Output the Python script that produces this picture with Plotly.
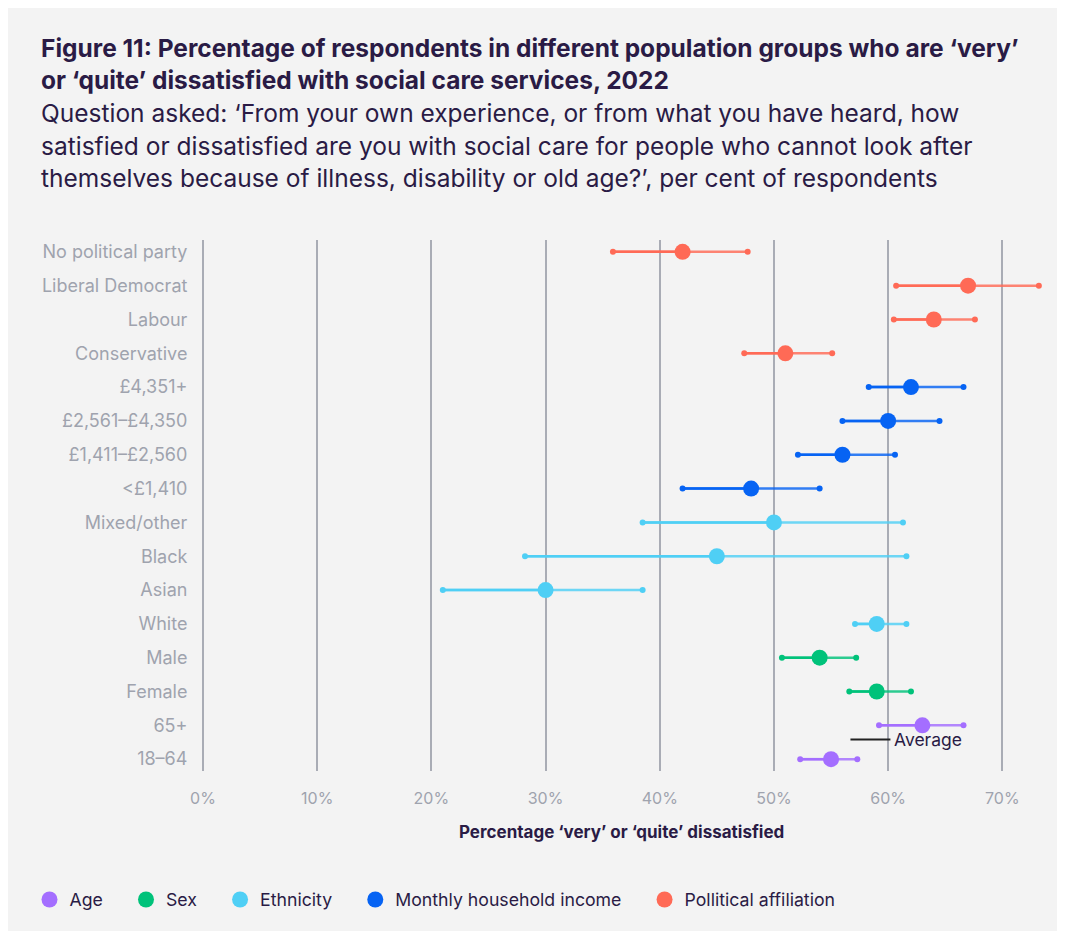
import plotly.graph_objects as go

# ---------------- data ----------------
categories = ["No political party", "Liberal Democrat", "Labour", "Conservative",
              "£4,351+", "£2,561–£4,350", "£1,411–£2,560", "<£1,410",
              "Mixed/other", "Black", "Asian", "White",
              "Male", "Female", "65+", "18–64"]
groups = ["Pollitical affiliation"] * 4 + ["Monthly household income"] * 4 + \
         ["Ethnicity"] * 4 + ["Sex"] * 2 + ["Age"] * 2
values = [42.0, 67.0, 64.0, 51.0,
          62.0, 60.0, 56.0, 48.0,
          50.0, 45.0, 30.0, 59.0,
          54.0, 59.0, 63.0, 55.0]
lower = [35.9, 60.7, 60.5, 47.4,
         58.3, 56.0, 52.1, 42.0,
         38.5, 28.2, 21.0, 57.1,
         50.7, 56.6, 59.2, 52.3]
upper = [47.7, 73.2, 67.6, 55.1,
         66.6, 64.5, 60.6, 54.0,
         61.3, 61.6, 38.5, 61.6,
         57.2, 62.0, 66.6, 57.3]
average = 56.7
x_ticks = [0, 10, 20, 30, 40, 50, 60, 70]
x_tick_labels = ["0%", "10%", "20%", "30%", "40%", "50%", "60%", "70%"]
legend_order = ["Age", "Sex", "Ethnicity", "Monthly household income", "Pollitical affiliation"]
group_colors = {
    "Age": (164, 110, 255),
    "Sex": (0, 194, 122),
    "Ethnicity": (79, 207, 245),
    "Monthly household income": (6, 99, 243),
    "Pollitical affiliation": (255, 106, 86),
}

FONT = "Inter"
DARK = "#2a1b45"
TICK = "#9fa3ae"
GRID = "#a9acb5"
PANEL = "#f3f3f3"

OFF = 8  # page body margin
W, H = 1057, 923
ML, MR, MT, MB = 195, 17, 232, 160
PW, PH = W - ML - MR, H - MT - MB


def sx(px):
    """screen pixel x -> paper x"""
    return (px - OFF - ML) / PW


def sy(py):
    """screen pixel y -> paper y"""
    return (H - MB - (py - OFF)) / PH


def rgb(c, a=1.0):
    return "rgba(%d,%d,%d,%s)" % (c[0], c[1], c[2], a)


fig = go.Figure()

# whiskers and points, per group
for g in legend_order:
    idx = [i for i, gg in enumerate(groups) if gg == g]
    col = group_colors[g]
    xs, ys, xl, yl = [], [], [], []
    for i in idx:
        xs += [lower[i], upper[i], None]
        ys += [categories[i], categories[i], None]
        xl += [lower[i], values[i], None]
        yl += [categories[i], categories[i], None]
    # full interval (slightly lighter)
    fig.add_trace(go.Scatter(
        x=xs, y=ys, mode="lines+markers",
        line=dict(color=rgb(col, 0.82), width=2.5),
        marker=dict(color=rgb(col), size=6),
        showlegend=False, hoverinfo="skip", cliponaxis=False))
    # lower part (full colour)
    fig.add_trace(go.Scatter(
        x=xl, y=yl, mode="lines",
        line=dict(color=rgb(col), width=2.5),
        showlegend=False, hoverinfo="skip", cliponaxis=False))
    fig.add_trace(go.Scatter(
        x=[values[i] for i in idx], y=[categories[i] for i in idx],
        mode="markers", name=g + "\u00a0\u00a0\u00a0\u2009",
        marker=dict(color=rgb(col), size=16, line=dict(width=0)),
        cliponaxis=False))

# average dashed line
fig.add_shape(type="line", xref="x", yref="paper", x0=average, x1=average,
              y0=0, y1=1, line=dict(color="#9c9fa8", width=3, dash="dash"), layer="below")
# average label leader line
avg_label_y = 14.42
fig.add_shape(type="line", xref="x", yref="y", x0=average, x1=average + 3.5,
              y0=avg_label_y, y1=avg_label_y, line=dict(color="#222222", width=2))
fig.add_annotation(x=average + 3.6, y=avg_label_y, xref="x", yref="y",
                   text="Average", showarrow=False, xanchor="left", yanchor="middle",
                   font=dict(family=FONT, size=17.5, color=DARK))

# background panel
fig.add_shape(type="rect", xref="paper", yref="paper", layer="below",
              x0=sx(7), x1=sx(1058), y0=sy(934), y1=sy(5),
              fillcolor=PANEL, line=dict(width=0))

# title lines
title_lines = [
    ("<b>Figure 11: Percentage of respondents in different population groups who are ‘very’</b>", 48),
    ("<b>or ‘quite’ dissatisfied with social care services, 2022</b>", 80),
    ("Question asked: ‘From your own experience, or from what you have heard, how", 113),
    ("satisfied or dissatisfied are you with social care for people who cannot look after", 146),
    ("themselves because of illness, disability or old age?’, per cent of respondents", 178),
]
for k, (txt, yc) in enumerate(title_lines):
    fig.add_annotation(text=txt, xref="paper", yref="paper",
                       x=sx(39), y=sy(yc),
                       xanchor="left", yanchor="middle", showarrow=False,
                       font=dict(family=FONT, size=24.5, color=DARK))

# x axis title
fig.add_annotation(text="<b>Percentage ‘very’ or ‘quite’ dissatisfied</b>",
                   xref="paper", yref="paper", x=sx(621), y=sy(832),
                   xanchor="center", yanchor="middle", showarrow=False,
                   font=dict(family=FONT, size=17, color=DARK))

fig.update_layout(
    width=W, height=H,
    margin=dict(l=ML, r=MR, t=MT, b=MB),
    paper_bgcolor="white", plot_bgcolor="rgba(0,0,0,0)",
    font=dict(family=FONT, color=DARK),
    showlegend=True,
    legend=dict(orientation="h", xref="container", yref="container",
                x=21.5 / W, y=1 - (900 - OFF) / H, xanchor="left", yanchor="middle",
                font=dict(family=FONT, size=17.7, color=DARK),
                bgcolor="rgba(0,0,0,0)", itemclick=False),
)
fig.update_xaxes(range=[0, 74], tickvals=x_ticks, ticktext=x_tick_labels,
                 showgrid=True, gridcolor=GRID, gridwidth=1.5,
                 zeroline=True, zerolinecolor=GRID, zerolinewidth=1.5,
                 showline=False, ticks="outside", ticklen=13, tickcolor="rgba(0,0,0,0)",
                 tickfont=dict(family=FONT, size=16, color=TICK), fixedrange=True)
fig.update_yaxes(type="category", categoryorder="array", categoryarray=categories,
                 range=[15.35, -0.35], showgrid=False, zeroline=False, showline=False,
                 ticks="outside", ticklen=11, tickcolor="rgba(0,0,0,0)",
                 tickfont=dict(family=FONT, size=18, color=TICK), fixedrange=True)

fig.write_html("out.html")
